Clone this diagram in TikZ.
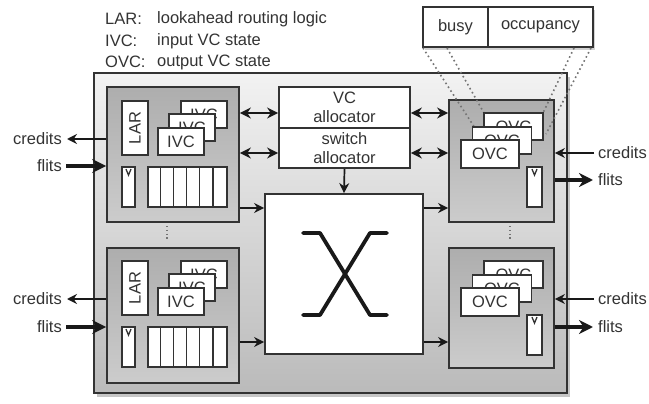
\documentclass[tikz,border=0pt]{standalone}
\usepackage{fontspec}
\setmainfont{Liberation Sans}
\usetikzlibrary{arrows.meta,shadows,calc}
\definecolor{lc}{HTML}{333333}
\tikzset{
  every node/.style={font=\fontsize{16.5}{20}\selectfont, text=black!80},
  box/.style={draw=lc, line width=1.8pt, inner sep=0pt, rectangle},
  wbox/.style={box, fill=white},
  unitbox/.style={box, top color=black!32, bottom color=black!20},
  lbl/.style={inner sep=1pt},
  dblarr/.style={{Stealth[length=11pt,width=11pt]}-{Stealth[length=11pt,width=11pt]}, line width=1.7pt, draw=black!90},
  onearr/.style={-{Stealth[length=10pt,width=10pt]}, line width=1.7pt, draw=black!90},
  thickarr/.style={-{Stealth[length=14pt,width=14pt]}, line width=3.2pt, draw=black!90},
  dotln/.style={draw=black!55, line width=1.6pt, dash pattern=on 1.6pt off 3pt},
  vdots/.style={draw=black!55, line width=1.3pt, dash pattern=on 1.3pt off 2.5pt},
}
\begin{document}
\begin{tikzpicture}[x=1pt,y=-1pt]
\useasboundingbox (0,0) rectangle (649,404);
% legend
\node[lbl,anchor=west] (l1) at (104,19) {LAR:};
\node[lbl,anchor=west] (l2) at (104,41) {IVC:};
\node[lbl,anchor=west] (l3) at (104,62) {OVC:};
\node[lbl,anchor=west] (d1) at (156,19) {lookahead routing logic};
\node[lbl,anchor=west] (d2) at (156,41) {input VC state};
\node[lbl,anchor=west] (d3) at (156,62) {output VC state};
% busy / occupancy
\node[wbox, minimum width=65pt, minimum height=40pt, drop shadow={shadow xshift=2pt,shadow yshift=-3pt,opacity=0.35}] (busy) at (455.5,27) {busy};
\node[wbox, minimum width=105pt, minimum height=40pt, drop shadow={shadow xshift=2pt,shadow yshift=-3pt,opacity=0.35}] (occ) at (540.5,27) {occupancy};
% outer router box
\node[box, minimum width=473pt, minimum height=320pt, top color=black!5, bottom color=black!27,
      drop shadow={shadow xshift=3pt,shadow yshift=-4pt,opacity=0.45}] (router) at (330.5,233) {};
% input units
\node[unitbox, minimum width=132pt, minimum height=135pt] (in1) at (173,154.5) {};
\node[unitbox, minimum width=132pt, minimum height=135pt] (in2) at (173,315.5) {};
% output units
\node[unitbox, minimum width=105pt, minimum height=122pt] (out1) at (501.5,161) {};
\node[unitbox, minimum width=105pt, minimum height=120pt] (out2) at (501.5,308) {};
% dotted expansion lines
\coordinate (e1) at (423,48); \coordinate (e2) at (447,48);
\coordinate (e3) at (574,48); \coordinate (e4) at (591,48);
\coordinate (f1) at (475,128); \coordinate (f2) at (484,113);
\coordinate (f3) at (543,113); \coordinate (f4) at (546,134);
\draw[dotln] (e1) -- (f1);
\draw[dotln] (e2) -- (f2);
\draw[dotln] (e3) -- (f3);
\draw[dotln] (e4) -- (f4);
% input unit contents
\foreach \n/\dy in {1/0,2/160}{
  \node[wbox, minimum width=26pt, minimum height=54pt] (lar\n) at (135,128+\dy) {\rotatebox{90}{LAR}};
  \node[wbox, minimum width=46pt, minimum height=27pt] (ivcc\n) at (204,114.5+\dy) {IVC};
  \node[wbox, minimum width=46pt, minimum height=27pt] (ivcb\n) at (192,127.5+\dy) {IVC};
  \node[wbox, minimum width=46pt, minimum height=27pt] (ivca\n) at (181,141.5+\dy) {IVC};
  \node[wbox, minimum width=13pt, minimum height=40pt] (sb\n) at (128.5,187+\dy) {};
  \draw[line width=1.3pt, black!80] ($(sb\n.north)+(-2.5,3)$) -- ($(sb\n.north)+(0,9)$) -- ($(sb\n.north)+(2.5,3)$);
  \node[wbox, minimum width=79pt, minimum height=40pt] (bb\n) at (187.5,187+\dy) {};
  \foreach \k in {1,...,5}{
    \draw[draw=lc, line width=1.4pt] ($(bb\n.north west)+(\k*13.17,0)$) -- ($(bb\n.south west)+(\k*13.17,0)$);
  }
}
% output unit contents
\foreach \n/\dy in {1/0,2/148}{
  \node[wbox, minimum width=59pt, minimum height=27pt] (ovcc\n) at (513.5,126.5+\dy) {OVC};
  \node[wbox, minimum width=59pt, minimum height=27pt] (ovcb\n) at (502,140.5+\dy) {OVC};
  \node[wbox, minimum width=58pt, minimum height=28pt] (ovca\n) at (490,154+\dy) {OVC};
  \node[wbox, minimum width=15pt, minimum height=40pt] (osb\n) at (534.5,187+\dy) {};
  \draw[line width=1.3pt, black!80] ($(osb\n.north)+(-2.5,3)$) -- ($(osb\n.north)+(0,9)$) -- ($(osb\n.north)+(2.5,3)$);
}
% vertical dots
\coordinate (vd1) at (167,226); \coordinate (vd2) at (167,241);
\coordinate (vd3) at (510,226); \coordinate (vd4) at (510,241);
\draw[vdots] (vd1) -- (vd2);
\draw[vdots] (vd3) -- (vd4);
% allocators
\node[wbox, minimum width=131pt, minimum height=41pt, align=center, font=\fontsize{16.5}{19.5}\selectfont] (va) at (344.5,107.5) {VC\\allocator};
\node[wbox, minimum width=131pt, minimum height=40pt, align=center, font=\fontsize{16.5}{19.5}\selectfont] (sa) at (344.5,148) {switch\\allocator};
% crossbar
\node[wbox, minimum width=158pt, minimum height=160pt] (xbar) at (344,274) {};
\draw[line width=3.8pt, line cap=round, line join=round, black!90]
  ($(xbar.center)+(-41,-41)$) -- ($(xbar.center)+(-24,-41)$) -- ($(xbar.center)+(26,41)$) -- ($(xbar.center)+(43,41)$);
\draw[line width=3.8pt, line cap=round, line join=round, black!90]
  ($(xbar.center)+(43,-41)$) -- ($(xbar.center)+(26,-41)$) -- ($(xbar.center)+(-24,41)$) -- ($(xbar.center)+(-41,41)$);
% arrow rows
\coordinate (r1) at (0,113); \coordinate (r2) at (0,153);
\coordinate (r3) at (0,208); \coordinate (r4) at (0,342);
\draw[dblarr] (in1.east |- r1) -- (va.west |- r1);
\draw[dblarr] (in1.east |- r2) -- (sa.west |- r2);
\draw[dblarr] (va.east |- r1) -- (out1.west |- r1);
\draw[dblarr] (sa.east |- r2) -- (out1.west |- r2);
\draw[onearr] (sa.south) -- (xbar.north);
\draw[onearr] (in1.east |- r3) -- (xbar.west |- r3);
\draw[onearr] (in2.east |- r4) -- (xbar.west |- r4);
\draw[onearr] (xbar.east |- r3) -- (out1.west |- r3);
\draw[onearr] (xbar.east |- r4) -- (out2.west |- r4);
% left credits / flits
\node[lbl,anchor=east] (cl1) at (63,139) {credits};
\node[lbl,anchor=east] (fl1) at (63,166) {flits};
\node[lbl,anchor=east] (cl2) at (63,299) {credits};
\node[lbl,anchor=east] (fl2) at (63,327) {flits};
\draw[onearr] (in1.west |- cl1.east) -- ($(cl1.east)+(4,0)$);
\draw[thickarr] ($(fl1.east)+(3,0)$) -- (in1.west |- fl1.east);
\draw[onearr] (in2.west |- cl2.east) -- ($(cl2.east)+(4,0)$);
\draw[thickarr] ($(fl2.east)+(3,0)$) -- (in2.west |- fl2.east);
% right credits / flits
\node[lbl,anchor=west] (cr1) at (597,153) {credits};
\node[lbl,anchor=west] (fr1) at (597,180) {flits};
\node[lbl,anchor=west] (cr2) at (597,299) {credits};
\node[lbl,anchor=west] (fr2) at (597,327) {flits};
\draw[onearr] ($(cr1.west)+(-3,0)$) -- (out1.east |- cr1.west);
\draw[thickarr] (out1.east |- fr1.west) -- ($(fr1.west)+(-4,0)$);
\draw[onearr] ($(cr2.west)+(-3,0)$) -- (out2.east |- cr2.west);
\draw[thickarr] (out2.east |- fr2.west) -- ($(fr2.west)+(-4,0)$);
\end{tikzpicture}
\end{document}
